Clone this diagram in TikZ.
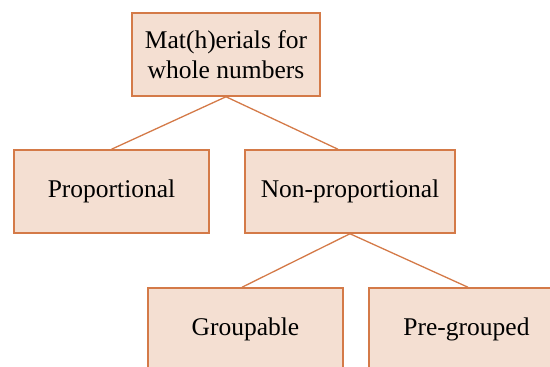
\documentclass[tikz,border=0pt]{standalone}
\usepackage{fontspec}
\newfontfamily\boxfont{Liberation Serif}
\definecolor{boxfill}{RGB}{244,223,210}
\definecolor{boxline}{RGB}{212,122,72}
\begin{document}
\begin{tikzpicture}[x=1pt,y=1pt,
  cbox/.style={draw=boxline,fill=boxfill,line width=1.5pt,minimum height=83pt,
    inner sep=0pt,align=center,font=\boxfont\fontsize{25.5}{30}\selectfont},
  conn/.style={draw=boxline,line width=1.3pt}]
\useasboundingbox (0,0) rectangle (550,-367);
\clip (0,0) rectangle (550,-367);
\node[cbox,minimum width=188pt] (top) at (226,-54.5) {Mat(h)erials for\\whole numbers};
\node[cbox,minimum width=195pt] (prop) at (111.5,-191.5) {Proportional};
\node[cbox,minimum width=210pt] (nonprop) at (350,-191.5) {Non-proportional};
\node[cbox,minimum width=195pt] (grp) at (245.5,-329.5) {Groupable};
\node[cbox,minimum width=195pt] (pre) at (466.5,-329.5) {Pre-grouped};
\draw[conn] (top.south) -- (prop.north);
\draw[conn] (top.south) -- ([xshift=-12pt]nonprop.north);
\draw[conn] (nonprop.south) -- ([xshift=-3.5pt]grp.north);
\draw[conn] (nonprop.south) -- ([xshift=1.5pt]pre.north);
\end{tikzpicture}
\end{document}
